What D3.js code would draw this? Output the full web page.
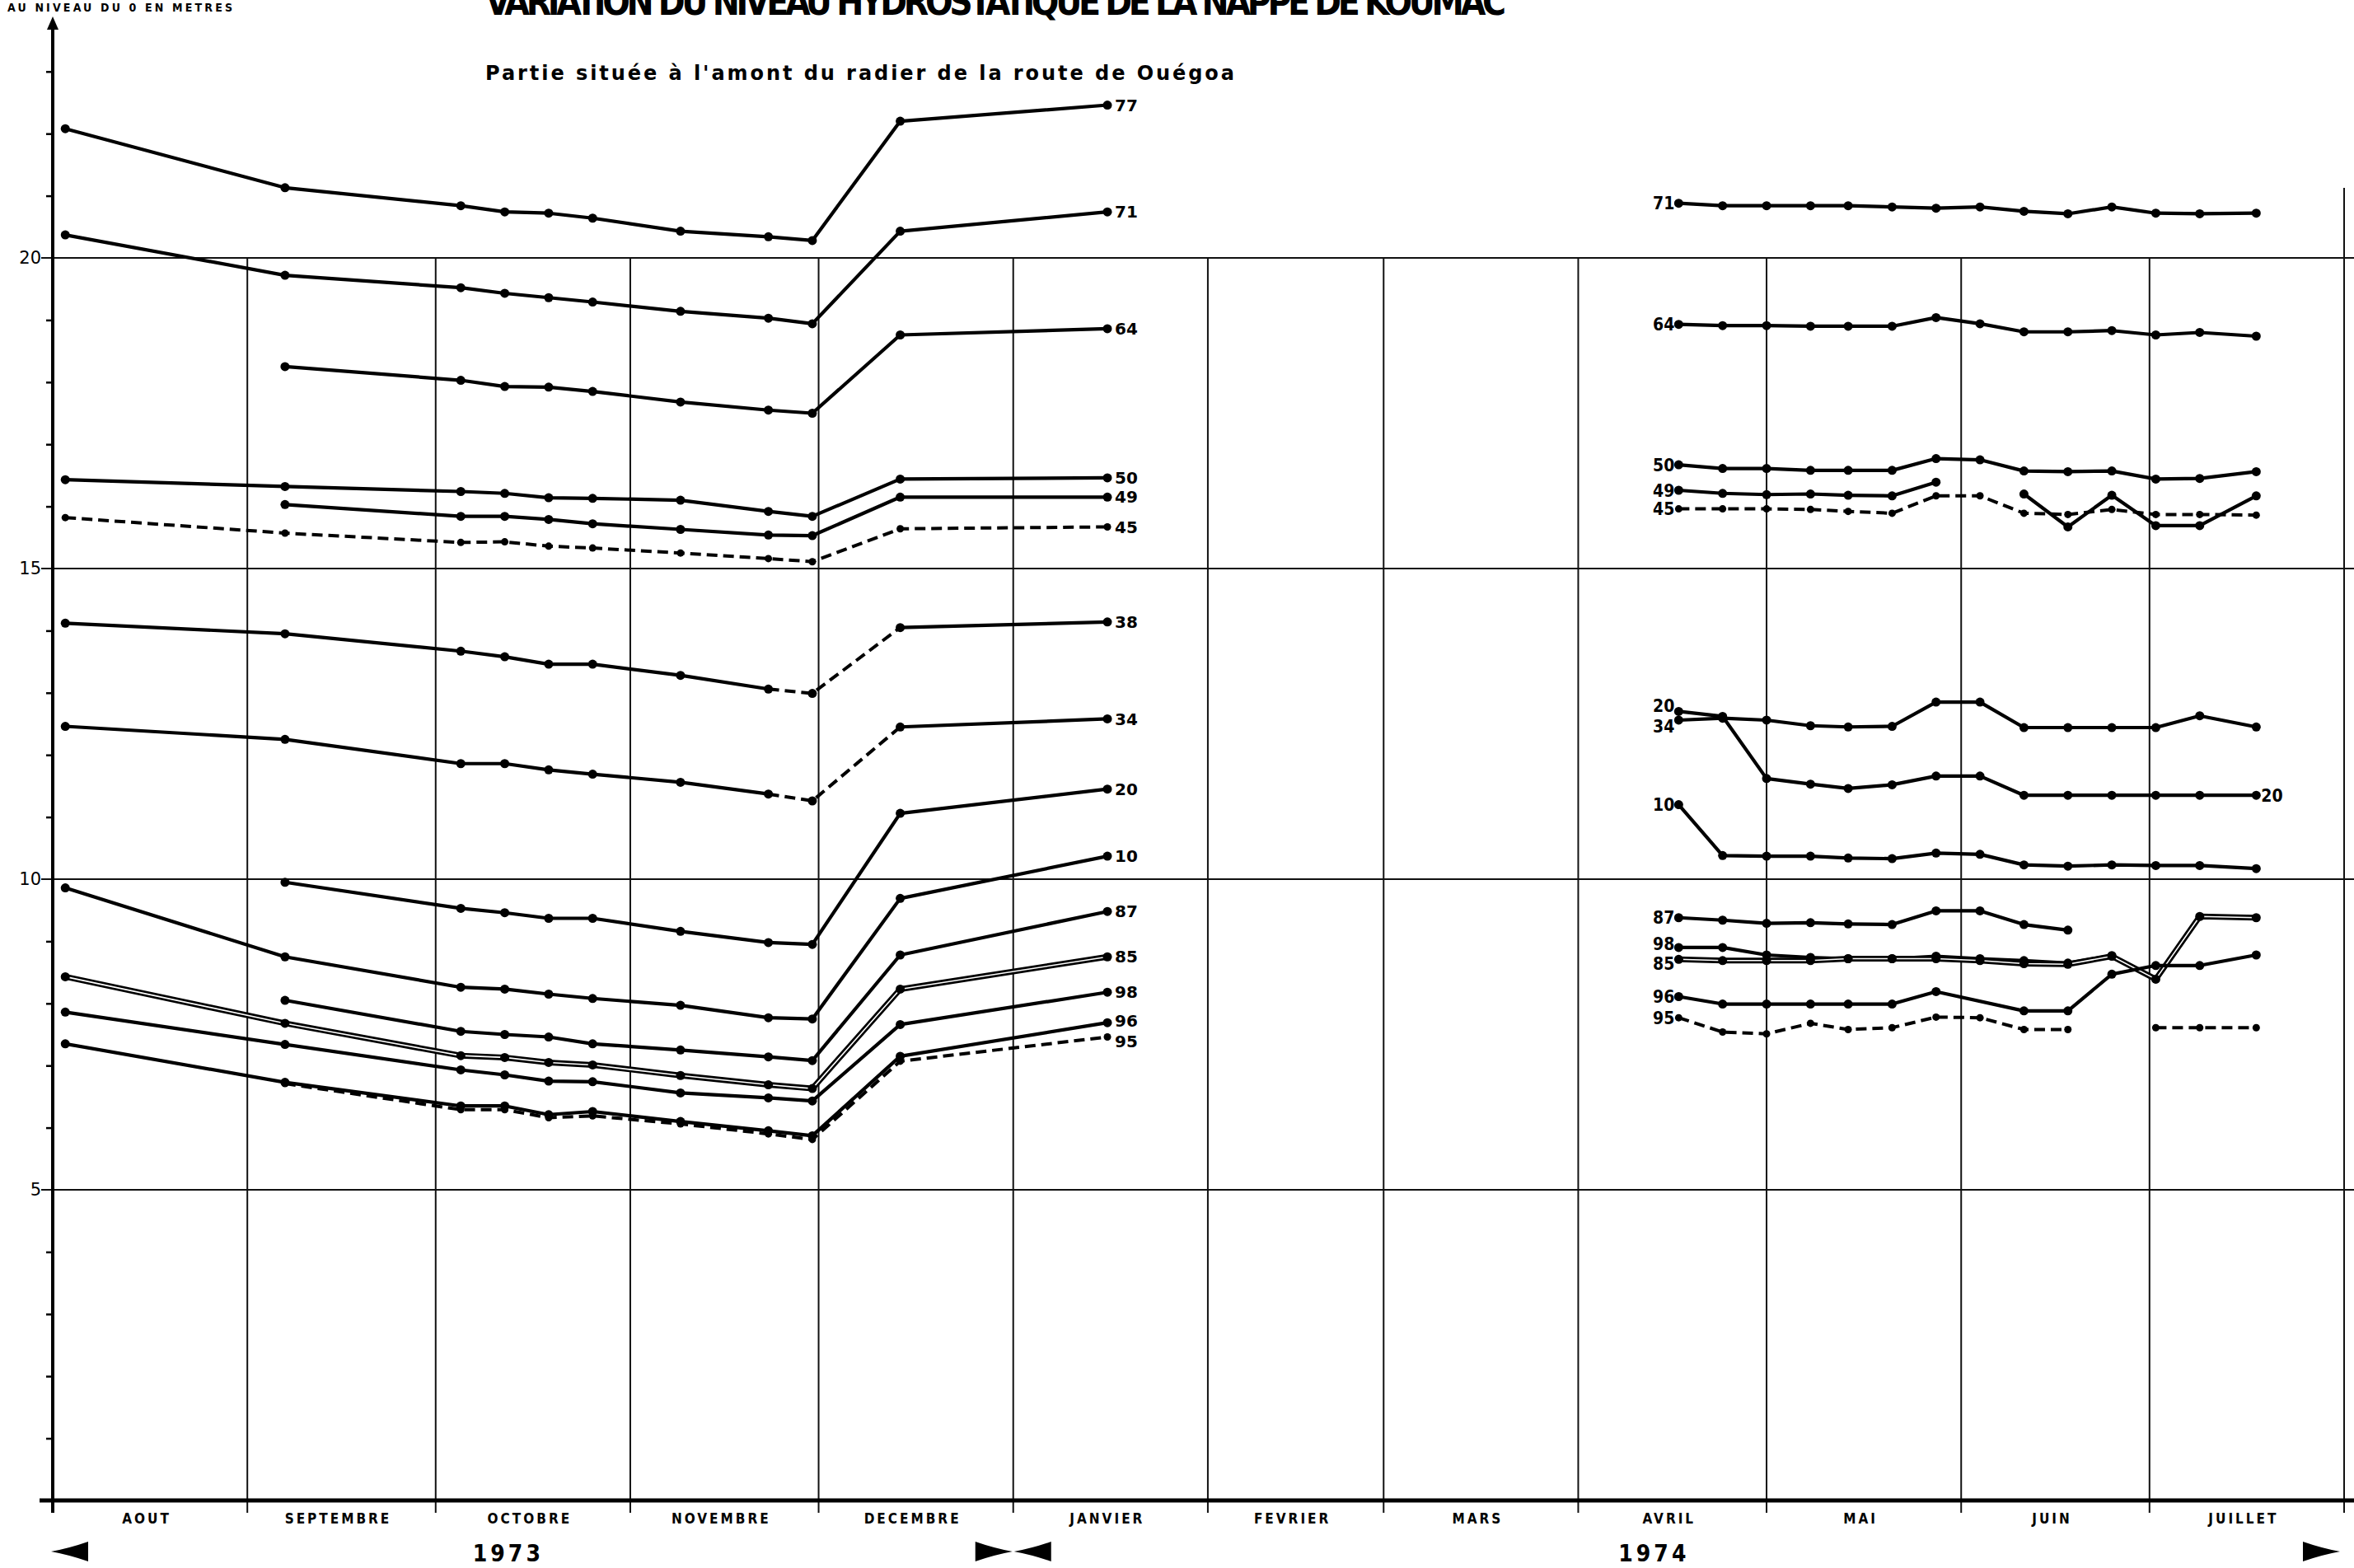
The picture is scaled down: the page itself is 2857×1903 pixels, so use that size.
<!DOCTYPE html>
<html>
<head>
<meta charset="utf-8">
<script src="https://cdn.jsdelivr.net/npm/d3@7"></script>
<style>
  body { margin: 0; background: #fff; }
  svg { display: block; }
</style>
</head>
<body>
<script>
const W = 2857, H = 1903;
const parseDate = d3.timeParse('%Y-%m-%d');

// dates de mesure
const dates1973 = ['1973-08-03', '1973-09-07', '1973-10-05', '1973-10-12', '1973-10-19', '1973-10-26',
  '1973-11-09', '1973-11-23', '1973-11-30', '1973-12-14', '1974-01-16'];
const dates1974 = ['1974-04-17', '1974-04-24', '1974-05-01', '1974-05-08', '1974-05-14', '1974-05-21',
  '1974-05-28', '1974-06-04', '1974-06-11', '1974-06-18', '1974-06-25', '1974-07-02', '1974-07-09', '1974-07-18'];

// niveaux (m), un tableau par puits, null = pas de mesure
const wells1973 = ['77', '71', '64', '50', '49', '45', '38', '34', '20', '10', '87', '85', '98', '96', '95'];
const levels1973 = [
  [22.08, 21.13, 20.84, 20.74, 20.72, 20.64, 20.43, 20.34, 20.28, 22.20, 22.46],
  [20.37, 19.72, 19.52, 19.43, 19.36, 19.29, 19.14, 19.03, 18.94, 20.43, 20.74],
  [null, 18.25, 18.03, 17.93, 17.92, 17.85, 17.68, 17.55, 17.50, 18.76, 18.86],
  [16.43, 16.32, 16.24, 16.21, 16.14, 16.13, 16.10, 15.92, 15.84, 16.44, 16.46],
  [null, 16.03, 15.84, 15.84, 15.79, 15.72, 15.63, 15.54, 15.53, 16.15, 16.15],
  [15.82, 15.57, 15.42, 15.43, 15.36, 15.33, 15.25, 15.16, 15.11, 15.64, 15.67],
  [14.12, 13.95, 13.67, 13.58, 13.46, 13.46, 13.28, 13.06, 12.99, 14.05, 14.14],
  [12.46, 12.25, 11.86, 11.86, 11.76, 11.69, 11.56, 11.37, 11.26, 12.45, 12.58],
  [null, 9.95, 9.53, 9.46, 9.37, 9.37, 9.16, 8.98, 8.95, 11.06, 11.45],
  [9.86, 8.75, 8.26, 8.23, 8.15, 8.08, 7.97, 7.77, 7.75, 9.69, 10.37],
  [null, 8.05, 7.55, 7.50, 7.46, 7.35, 7.25, 7.14, 7.08, 8.78, 9.48],
  [8.43, 7.68, 7.16, 7.13, 7.05, 7.01, 6.84, 6.69, 6.63, 8.23, 8.75],
  [7.86, 7.34, 6.93, 6.85, 6.75, 6.74, 6.56, 6.48, 6.43, 7.66, 8.18],
  [7.35, 6.73, 6.35, 6.35, 6.21, 6.26, 6.10, 5.95, 5.87, 7.15, 7.69],
  [null, 6.71, 6.29, 6.29, 6.16, 6.19, 6.06, 5.90, 5.81, 7.07, 7.46]
];
const wells1974 = ['71', '64', '50', '49', '45', '20', '34', '10', '87', '98', '85', '96', '95'];
const levels1974 = [
  [20.88, 20.84, 20.84, 20.84, 20.84, 20.82, 20.80, 20.82, 20.75, 20.71, 20.82, 20.72, 20.71, 20.72],
  [18.93, 18.91, 18.91, 18.90, 18.90, 18.90, 19.04, 18.94, 18.81, 18.81, 18.83, 18.76, 18.80, 18.74],
  [16.67, 16.61, 16.61, 16.58, 16.58, 16.58, 16.77, 16.75, 16.57, 16.56, 16.57, 16.44, 16.45, 16.56],
  [16.26, 16.21, 16.19, 16.20, 16.18, 16.17, 16.39, null, 16.20, 15.67, 16.18, 15.69, 15.69, 16.17],
  [15.96, 15.96, 15.96, 15.95, 15.92, 15.89, 16.17, 16.17, 15.89, 15.87, 15.95, 15.87, 15.87, 15.86],
  [12.70, 12.62, 11.62, 11.53, 11.46, 11.52, 11.66, 11.66, 11.35, 11.35, 11.35, 11.35, 11.35, 11.35],
  [12.56, 12.59, 12.56, 12.47, 12.45, 12.46, 12.85, 12.85, 12.44, 12.44, 12.44, 12.44, 12.63, 12.45],
  [11.20, 10.38, 10.37, 10.37, 10.34, 10.33, 10.42, 10.40, 10.23, 10.21, 10.23, 10.22, 10.22, 10.17],
  [9.38, 9.34, 9.29, 9.30, 9.28, 9.27, 9.49, 9.49, 9.27, 9.18, null, null, null, null],
  [8.90, 8.90, 8.78, 8.74, 8.72, 8.72, 8.76, 8.72, 8.69, 8.65, 8.77, null, null, null],
  [8.71, 8.69, 8.69, 8.69, 8.72, 8.72, 8.72, 8.69, 8.64, 8.63, 8.76, 8.39, 9.40, 9.38],
  [8.11, 7.99, 7.99, 7.99, 7.99, 7.99, 8.19, null, 7.88, 7.88, 8.47, 8.61, 8.61, 8.78],
  [7.77, 7.54, 7.51, 7.68, 7.58, 7.61, 7.78, 7.77, 7.58, 7.58, null, 7.61, 7.61, 7.61]
];

const monthNames = ['AOUT', 'SEPTEMBRE', 'OCTOBRE', 'NOVEMBRE', 'DECEMBRE', 'JANVIER',
  'FEVRIER', 'MARS', 'AVRIL', 'MAI', 'JUIN', 'JUILLET'];
const yearLabels = ['1973', '1974'];
const yTickValues = [5, 10, 15, 20];

// styles des traits
const dashedWells = ['45', '95'];
const doubleWells = ['85'];
const dashedSpans1973 = { '38': [7, 9], '34': [7, 9] };
const breaks1974 = { '49': [7], '95': [10] };
const labelShift1973 = { '96': -2, '95': 5 };
const labelShift1974 = { '20': -7, '34': 7, '98': -5, '85': 5 };

const condensed = "'DejaVu Sans Condensed', 'DejaVu Sans', sans-serif";
const wide = "'DejaVu Sans', sans-serif";

const svg = d3.select('body').append('svg')
  .attr('width', W)
  .attr('height', H);
svg.append('rect').attr('width', W).attr('height', H).attr('fill', '#fff');

const start = new Date(1973, 7, 1), end = new Date(1974, 7, 1);
const x = d3.scaleTime().domain([start, end]).range([64, 2845]);
const y = d3.scaleLinear().domain([0, 20]).range([1821, 313]);
const y0 = y(0);

// quadrillage horizontal
const grid = svg.append('g').attr('stroke', '#111').attr('stroke-width', 2);
grid.selectAll('line.h').data(yTickValues).join('line')
  .attr('class', 'h')
  .attr('x1', 50).attr('x2', W)
  .attr('y1', d => y(d)).attr('y2', d => y(d));

// limites de mois
const months = d3.timeMonth.range(start, new Date(1974, 7, 2));
grid.selectAll('line.v').data(months.slice(1)).join('line')
  .attr('class', 'v')
  .attr('x1', d => x(d)).attr('x2', d => x(d))
  .attr('y1', d => +d === +end ? 228 : y(20))
  .attr('y2', y0 + 15);

// axe des x
svg.append('line')
  .attr('x1', 48).attr('x2', W)
  .attr('y1', y0).attr('y2', y0)
  .attr('stroke', '#000').attr('stroke-width', 5);

svg.append('g').selectAll('text').data(months.slice(0, 12)).join('text')
  .attr('x', (d, i) => (x(d) + x(months[i + 1])) / 2 - 4)
  .attr('y', 1849)
  .attr('text-anchor', 'middle')
  .attr('font-family', condensed)
  .attr('font-weight', 'bold')
  .attr('font-size', 17)
  .attr('letter-spacing', 3)
  .text((d, i) => monthNames[i]);

// années et flèches
const yearBounds = [[start, new Date(1974, 0, 1)], [new Date(1974, 0, 1), end]];
svg.append('g').selectAll('text').data(yearLabels).join('text')
  .attr('x', (d, i) => (x(yearBounds[i][0]) + x(yearBounds[i][1])) / 2 - 30)
  .attr('y', 1895)
  .attr('text-anchor', 'middle')
  .attr('font-family', condensed)
  .attr('font-weight', 'bold')
  .attr('font-size', 28)
  .attr('letter-spacing', 4)
  .text(d => d);

function arrowPath(tip, dir) {
  const yc = 1883, len = 45, h = 12;
  const b = tip - dir * len, m = tip - dir * 22;
  return `M${tip},${yc} Q${m},${yc - 4} ${b},${yc - h} L${b},${yc + h} Q${m},${yc + 4} ${tip},${yc} Z`;
}
const jan = x(new Date(1974, 0, 1));
svg.append('g').selectAll('path')
  .data([[x(start) - 2, -1], [jan - 1, 1], [jan + 1, -1], [x(end) - 5, 1]])
  .join('path')
  .attr('d', d => arrowPath(d[0], d[1]))
  .attr('fill', '#000');

// axe des y
svg.append('line')
  .attr('x1', 64).attr('x2', 64)
  .attr('y1', y0 + 15).attr('y2', 30)
  .attr('stroke', '#000').attr('stroke-width', 4);
svg.append('path')
  .attr('d', 'M64,20 L57,36 L71,36 Z')
  .attr('fill', '#000');

const yMinor = svg.append('g')
  .attr('transform', 'translate(64,0)')
  .call(d3.axisLeft(y).tickValues(d3.range(1, 24).filter(v => v % 5)).tickSize(8).tickFormat(''));
yMinor.select('.domain').remove();
yMinor.selectAll('line').attr('stroke', '#000').attr('stroke-width', 2.5);

svg.append('g').selectAll('text').data(yTickValues).join('text')
  .attr('x', 50)
  .attr('y', d => y(d))
  .attr('dy', '0.35em')
  .attr('text-anchor', 'end')
  .attr('font-family', wide)
  .attr('font-size', 21)
  .text(d => d);

// titres
svg.append('text')
  .attr('x', 9).attr('y', 14)
  .attr('font-family', condensed)
  .attr('font-weight', 'bold')
  .attr('font-size', 14)
  .attr('textLength', 273)
  .attr('lengthAdjust', 'spacing')
  .text('AU NIVEAU DU 0 EN METRES');

svg.append('text')
  .attr('x', 589).attr('y', 18)
  .attr('font-family', condensed)
  .attr('font-weight', 'bold')
  .attr('font-size', 44)
  .attr('textLength', 1239)
  .attr('lengthAdjust', 'spacing')
  .text('VARIATION DU NIVEAU HYDROSTATIQUE DE LA NAPPE DE KOUMAC');

svg.append('text')
  .attr('x', 589).attr('y', 97)
  .attr('font-family', wide)
  .attr('font-weight', 'bold')
  .attr('font-size', 24)
  .attr('textLength', 909)
  .attr('lengthAdjust', 'spacing')
  .text("Partie située à l'amont du radier de la route de Ouégoa");

// courbes
const line = d3.line().x(p => x(p.d)).y(p => y(p.v));
const plot = svg.append('g');

function drawPeriod(dateStrs, wells, levels, breaks, dashedSpans) {
  const dates = dateStrs.map(parseDate);
  wells.forEach((w, i) => {
    const runs = [[]];
    levels[i].forEach((v, j) => {
      if (v === null) {
        if (breaks[w] && breaks[w].includes(j) && runs[runs.length - 1].length) runs.push([]);
        return;
      }
      runs[runs.length - 1].push({ d: dates[j], v: v, j: j });
    });
    const isDashed = (a, b) => dashedWells.includes(w) ||
      (dashedSpans[w] && a.j >= dashedSpans[w][0] && b.j <= dashedSpans[w][1]);
    runs.forEach(run => {
      // regroupe les tronçons de même style
      const pieces = [];
      for (let k = 1; k < run.length; k++) {
        const dashed = isDashed(run[k - 1], run[k]);
        const last = pieces[pieces.length - 1];
        if (last && last.dashed === dashed) last.pts.push(run[k]);
        else pieces.push({ dashed: dashed, pts: [run[k - 1], run[k]] });
      }
      pieces.forEach(pc => {
        if (doubleWells.includes(w)) {
          plot.append('path').attr('d', line(pc.pts))
            .attr('fill', 'none').attr('stroke', '#000').attr('stroke-width', 7)
            .attr('stroke-linejoin', 'round');
          plot.append('path').attr('d', line(pc.pts))
            .attr('fill', 'none').attr('stroke', '#fff').attr('stroke-width', 1.6)
            .attr('stroke-linejoin', 'round');
        } else {
          plot.append('path').attr('d', line(pc.pts))
            .attr('fill', 'none').attr('stroke', '#000')
            .attr('stroke-width', pc.dashed ? 4 : 4.2)
            .attr('stroke-dasharray', pc.dashed ? '13 7' : null)
            .attr('stroke-linejoin', 'round');
        }
      });
      plot.append('g').selectAll('circle').data(run).join('circle')
        .attr('cx', p => x(p.d)).attr('cy', p => y(p.v))
        .attr('r', dashedWells.includes(w) ? 4.5 : 5.5)
        .attr('fill', '#000');
    });
  });
}

drawPeriod(dates1973, wells1973, levels1973, {}, dashedSpans1973);
drawPeriod(dates1974, wells1974, levels1974, breaks1974, {});

// étiquettes des puits
const lastPts = wells1973.map((w, i) => {
  const vals = levels1973[i];
  return { w: w, d: parseDate(dates1973[vals.length - 1]), v: vals[vals.length - 1] };
});
svg.append('g').selectAll('text').data(lastPts).join('text')
  .attr('x', p => x(p.d) + 9)
  .attr('y', p => y(p.v) + (labelShift1973[p.w] || 0))
  .attr('dy', '0.36em')
  .attr('font-family', wide)
  .attr('font-weight', 'bold')
  .attr('font-size', 20)
  .text(p => p.w);

const firstPts = wells1974.map((w, i) => ({ w: w, d: parseDate(dates1974[0]), v: levels1974[i][0] }));
svg.append('g').selectAll('text').data(firstPts).join('text')
  .attr('x', p => x(p.d) - 5)
  .attr('y', p => y(p.v) + (labelShift1974[p.w] || 0))
  .attr('dy', '0.36em')
  .attr('text-anchor', 'end')
  .attr('font-family', condensed)
  .attr('font-weight', 'bold')
  .attr('font-size', 21)
  .text(p => p.w);

const i20 = wells1974.indexOf('20');
const last20 = levels1974[i20][dates1974.length - 1];
svg.append('text')
  .attr('x', x(parseDate(dates1974[dates1974.length - 1])) + 6)
  .attr('y', y(last20))
  .attr('dy', '0.36em')
  .attr('font-family', condensed)
  .attr('font-weight', 'bold')
  .attr('font-size', 21)
  .text('20');
</script>
</body>
</html>
